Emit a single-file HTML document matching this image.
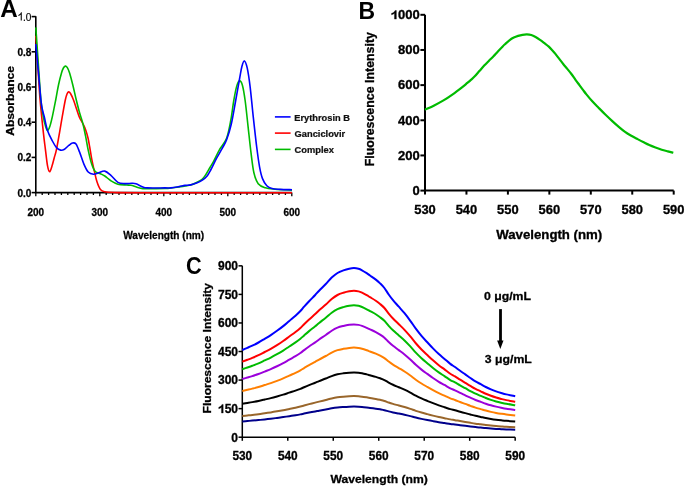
<!DOCTYPE html>
<html><head><meta charset="utf-8"><style>
html,body{margin:0;padding:0;background:#fff;}
svg{display:block;will-change:transform;}
</style></head><body>
<svg width="685" height="487" viewBox="0 0 685 487">
<rect width="685" height="487" fill="#fff"/>
<path d="M35.8,16.2V192.6H292" fill="none" stroke="#000" stroke-width="1.6"/>
<path d="M31.599999999999998,192.60H35.8" stroke="#000" stroke-width="1.6"/>
<path d="M31.599999999999998,157.40H35.8" stroke="#000" stroke-width="1.6"/>
<path d="M31.599999999999998,122.20H35.8" stroke="#000" stroke-width="1.6"/>
<path d="M31.599999999999998,87.00H35.8" stroke="#000" stroke-width="1.6"/>
<path d="M31.599999999999998,51.80H35.8" stroke="#000" stroke-width="1.6"/>
<path d="M31.599999999999998,16.60H35.8" stroke="#000" stroke-width="1.6"/>
<path d="M35.80,192.6V196.20" stroke="#000" stroke-width="1.3"/>
<path d="M42.20,192.6V195.00" stroke="#000" stroke-width="1.3"/>
<path d="M48.60,192.6V195.00" stroke="#000" stroke-width="1.3"/>
<path d="M55.00,192.6V195.00" stroke="#000" stroke-width="1.3"/>
<path d="M61.40,192.6V195.00" stroke="#000" stroke-width="1.3"/>
<path d="M67.80,192.6V195.00" stroke="#000" stroke-width="1.3"/>
<path d="M74.20,192.6V195.00" stroke="#000" stroke-width="1.3"/>
<path d="M80.60,192.6V195.00" stroke="#000" stroke-width="1.3"/>
<path d="M87.00,192.6V195.00" stroke="#000" stroke-width="1.3"/>
<path d="M93.40,192.6V195.00" stroke="#000" stroke-width="1.3"/>
<path d="M99.80,192.6V196.20" stroke="#000" stroke-width="1.3"/>
<path d="M106.20,192.6V195.00" stroke="#000" stroke-width="1.3"/>
<path d="M112.60,192.6V195.00" stroke="#000" stroke-width="1.3"/>
<path d="M119.00,192.6V195.00" stroke="#000" stroke-width="1.3"/>
<path d="M125.40,192.6V195.00" stroke="#000" stroke-width="1.3"/>
<path d="M131.80,192.6V195.00" stroke="#000" stroke-width="1.3"/>
<path d="M138.20,192.6V195.00" stroke="#000" stroke-width="1.3"/>
<path d="M144.60,192.6V195.00" stroke="#000" stroke-width="1.3"/>
<path d="M151.00,192.6V195.00" stroke="#000" stroke-width="1.3"/>
<path d="M157.40,192.6V195.00" stroke="#000" stroke-width="1.3"/>
<path d="M163.80,192.6V196.20" stroke="#000" stroke-width="1.3"/>
<path d="M170.20,192.6V195.00" stroke="#000" stroke-width="1.3"/>
<path d="M176.60,192.6V195.00" stroke="#000" stroke-width="1.3"/>
<path d="M183.00,192.6V195.00" stroke="#000" stroke-width="1.3"/>
<path d="M189.40,192.6V195.00" stroke="#000" stroke-width="1.3"/>
<path d="M195.80,192.6V195.00" stroke="#000" stroke-width="1.3"/>
<path d="M202.20,192.6V195.00" stroke="#000" stroke-width="1.3"/>
<path d="M208.60,192.6V195.00" stroke="#000" stroke-width="1.3"/>
<path d="M215.00,192.6V195.00" stroke="#000" stroke-width="1.3"/>
<path d="M221.40,192.6V195.00" stroke="#000" stroke-width="1.3"/>
<path d="M227.80,192.6V196.20" stroke="#000" stroke-width="1.3"/>
<path d="M234.20,192.6V195.00" stroke="#000" stroke-width="1.3"/>
<path d="M240.60,192.6V195.00" stroke="#000" stroke-width="1.3"/>
<path d="M247.00,192.6V195.00" stroke="#000" stroke-width="1.3"/>
<path d="M253.40,192.6V195.00" stroke="#000" stroke-width="1.3"/>
<path d="M259.80,192.6V195.00" stroke="#000" stroke-width="1.3"/>
<path d="M266.20,192.6V195.00" stroke="#000" stroke-width="1.3"/>
<path d="M272.60,192.6V195.00" stroke="#000" stroke-width="1.3"/>
<path d="M279.00,192.6V195.00" stroke="#000" stroke-width="1.3"/>
<path d="M285.40,192.6V195.00" stroke="#000" stroke-width="1.3"/>
<path d="M291.80,192.6V196.20" stroke="#000" stroke-width="1.3"/>
<path d="M35.80,35.70 C36.10,40.08 36.88,51.28 37.60,62.00 C38.32,72.72 39.13,88.20 40.10,100.00 C41.07,111.80 42.52,124.58 43.40,132.80 C44.28,141.02 44.72,143.82 45.40,149.30 C46.08,154.78 46.80,161.95 47.50,165.70 C48.20,169.45 48.85,171.75 49.60,171.80 C50.35,171.85 51.23,168.30 52.00,166.00 C52.77,163.70 53.45,160.78 54.20,158.00 C54.95,155.22 55.62,153.50 56.50,149.30 C57.38,145.10 58.53,138.28 59.50,132.80 C60.47,127.32 61.33,121.87 62.30,116.40 C63.27,110.93 64.52,103.73 65.30,100.00 C66.08,96.27 66.45,95.35 67.00,94.00 C67.55,92.65 68.02,91.98 68.60,91.90 C69.18,91.82 69.68,92.15 70.50,93.50 C71.32,94.85 72.43,97.25 73.50,100.00 C74.57,102.75 75.90,107.08 76.90,110.00 C77.90,112.92 78.57,115.33 79.50,117.50 C80.43,119.67 81.50,121.00 82.50,123.00 C83.50,125.00 84.58,127.00 85.50,129.50 C86.42,132.00 87.30,135.08 88.00,138.00 C88.70,140.92 89.08,143.52 89.70,147.00 C90.32,150.48 90.93,154.88 91.70,158.90 C92.47,162.92 93.43,167.32 94.30,171.10 C95.17,174.88 95.88,178.53 96.90,181.60 C97.92,184.67 99.08,187.80 100.40,189.50 C101.72,191.20 102.37,191.30 104.80,191.80 C107.23,192.30 109.13,192.35 115.00,192.50 C120.87,192.65 110.50,192.67 140.00,192.70 C169.50,192.73 266.67,192.70 292.00,192.70" fill="none" stroke="#FF0000" stroke-width="1.6" stroke-linejoin="round" stroke-linecap="butt"/>
<path d="M35.80,27.40 C36.20,33.17 37.35,49.90 38.20,62.00 C39.05,74.10 40.07,91.00 40.90,100.00 C41.73,109.00 42.43,111.67 43.20,116.00 C43.97,120.33 44.78,123.60 45.50,126.00 C46.22,128.40 46.78,130.32 47.50,130.40 C48.22,130.48 48.98,128.83 49.80,126.50 C50.62,124.17 51.42,120.82 52.40,116.40 C53.38,111.98 54.68,105.23 55.70,100.00 C56.72,94.77 57.53,89.50 58.50,85.00 C59.47,80.50 60.68,75.83 61.50,73.00 C62.32,70.17 62.77,69.15 63.40,68.00 C64.03,66.85 64.67,66.20 65.30,66.10 C65.93,66.00 66.48,66.25 67.20,67.40 C67.92,68.55 68.67,70.07 69.60,73.00 C70.53,75.93 71.68,80.50 72.80,85.00 C73.92,89.50 75.18,95.42 76.30,100.00 C77.42,104.58 78.38,108.50 79.50,112.50 C80.62,116.50 81.98,120.05 83.00,124.00 C84.02,127.95 84.73,131.85 85.60,136.20 C86.47,140.55 87.18,145.45 88.20,150.10 C89.22,154.75 90.53,160.53 91.70,164.10 C92.87,167.67 93.75,169.90 95.20,171.50 C96.65,173.10 98.80,172.95 100.40,173.70 C102.00,174.45 103.05,174.83 104.80,176.00 C106.55,177.17 108.72,179.33 110.90,180.70 C113.08,182.07 115.28,183.48 117.90,184.20 C120.52,184.92 124.42,184.82 126.60,185.00 C128.78,185.18 129.27,184.93 131.00,185.30 C132.73,185.67 135.02,186.65 137.00,187.20 C138.98,187.75 141.15,188.35 142.90,188.60 C144.65,188.85 143.82,188.73 147.50,188.70 C151.18,188.67 161.10,188.52 165.00,188.40 C168.90,188.28 168.55,188.23 170.90,188.00 C173.25,187.77 176.77,187.33 179.10,187.00 C181.43,186.67 182.97,186.32 184.90,186.00 C186.83,185.68 188.75,185.68 190.70,185.10 C192.65,184.52 194.65,183.52 196.60,182.50 C198.55,181.48 200.75,180.50 202.40,179.00 C204.05,177.50 205.23,175.42 206.50,173.50 C207.77,171.58 208.82,169.53 210.00,167.50 C211.18,165.47 212.03,164.25 213.60,161.30 C215.17,158.35 217.23,153.63 219.40,149.80 C221.57,145.97 224.68,143.32 226.60,138.30 C228.52,133.28 229.72,125.92 230.90,119.70 C232.08,113.48 232.75,106.52 233.70,101.00 C234.65,95.48 235.63,89.95 236.60,86.60 C237.57,83.25 238.53,81.13 239.50,80.90 C240.47,80.67 241.45,81.85 242.40,85.20 C243.35,88.55 244.25,94.07 245.20,101.00 C246.15,107.93 247.13,118.18 248.10,126.80 C249.07,135.42 250.03,145.03 251.00,152.70 C251.97,160.37 252.70,167.63 253.90,172.80 C255.10,177.97 256.30,181.20 258.20,183.70 C260.10,186.20 262.48,186.88 265.30,187.80 C268.12,188.72 270.65,188.80 275.10,189.20 C279.55,189.60 289.18,190.03 292.00,190.20" fill="none" stroke="#00BB00" stroke-width="1.6" stroke-linejoin="round" stroke-linecap="butt"/>
<path d="M35.80,44.00 C36.23,48.67 37.55,62.67 38.40,72.00 C39.25,81.33 40.22,93.67 40.90,100.00 C41.58,106.33 41.95,107.27 42.50,110.00 C43.05,112.73 43.37,113.00 44.20,116.40 C45.03,119.80 46.13,126.30 47.50,130.40 C48.87,134.50 50.90,138.13 52.40,141.00 C53.90,143.87 55.13,146.08 56.50,147.60 C57.87,149.12 59.27,149.83 60.60,150.10 C61.93,150.37 63.13,149.98 64.50,149.20 C65.87,148.42 67.47,146.43 68.80,145.40 C70.13,144.37 71.30,143.23 72.50,143.00 C73.70,142.77 74.83,142.52 76.00,144.00 C77.17,145.48 78.18,148.55 79.50,151.90 C80.82,155.25 82.45,160.75 83.90,164.10 C85.35,167.45 86.60,170.32 88.20,172.00 C89.80,173.68 91.75,174.07 93.50,174.20 C95.25,174.33 96.82,173.32 98.70,172.80 C100.58,172.28 102.77,170.67 104.80,171.10 C106.83,171.53 108.72,173.52 110.90,175.40 C113.08,177.28 115.57,181.03 117.90,182.40 C120.23,183.77 122.58,183.45 124.90,183.60 C127.22,183.75 129.95,183.27 131.80,183.30 C133.65,183.33 134.15,183.18 136.00,183.80 C137.85,184.42 140.98,186.32 142.90,187.00 C144.82,187.68 143.82,187.75 147.50,187.90 C151.18,188.05 161.10,187.90 165.00,187.90 C168.90,187.90 168.55,188.12 170.90,187.90 C173.25,187.68 176.77,187.02 179.10,186.60 C181.43,186.18 182.97,185.68 184.90,185.40 C186.83,185.12 188.75,185.28 190.70,184.90 C192.65,184.52 194.65,183.88 196.60,183.10 C198.55,182.32 200.65,181.37 202.40,180.20 C204.15,179.03 205.72,177.80 207.10,176.10 C208.48,174.40 209.13,172.95 210.70,170.00 C212.27,167.05 214.58,162.00 216.50,158.40 C218.42,154.80 220.52,151.50 222.20,148.40 C223.88,145.30 225.08,143.87 226.60,139.80 C228.12,135.73 229.80,130.47 231.30,124.00 C232.80,117.53 234.20,108.67 235.60,101.00 C237.00,93.33 238.65,83.75 239.70,78.00 C240.75,72.25 241.12,69.35 241.90,66.50 C242.68,63.65 243.52,60.67 244.40,60.90 C245.28,61.13 246.25,63.62 247.20,67.90 C248.15,72.18 249.07,78.22 250.10,86.60 C251.13,94.98 252.30,108.13 253.40,118.20 C254.50,128.27 255.67,138.85 256.70,147.00 C257.73,155.15 258.63,161.83 259.60,167.10 C260.57,172.37 261.30,175.50 262.50,178.60 C263.70,181.70 265.22,184.03 266.80,185.70 C268.38,187.37 269.80,187.98 272.00,188.60 C274.20,189.22 276.67,189.22 280.00,189.40 C283.33,189.58 290.00,189.65 292.00,189.70" fill="none" stroke="#0000FF" stroke-width="1.6" stroke-linejoin="round" stroke-linecap="butt"/>
<path d="M274.9,116.9H290.6" stroke="#0000FF" stroke-width="1.6"/>
<path d="M274.9,133.1H290.6" stroke="#FF0000" stroke-width="1.6"/>
<path d="M274.9,149.4H290.6" stroke="#00BB00" stroke-width="1.6"/>
<text transform="translate(294.34,120.62) scale(0.0927,0.0990)" font-size="100" font-family="Liberation Sans" font-weight="bold" fill="#111" stroke="#111" stroke-width="2.5">Erythrosin B</text>
<text transform="translate(294.62,136.61) scale(0.0930,0.0974)" font-size="100" font-family="Liberation Sans" font-weight="bold" fill="#111" stroke="#111" stroke-width="2.5">Ganciclovir</text>
<text transform="translate(294.62,153.02) scale(0.0931,0.0990)" font-size="100" font-family="Liberation Sans" font-weight="bold" fill="#111" stroke="#111" stroke-width="2.5">Complex</text>
<text transform="translate(0.17,17.03) scale(0.2424,0.2338)" font-size="100" font-family="Liberation Sans" font-weight="bold" fill="#000" stroke="#000" stroke-width="0">A</text>
<text transform="translate(31.40,196.58) scale(0.1008,0.1155)" font-size="100" font-family="Liberation Sans" font-weight="bold" text-anchor="end" fill="#000" stroke="#000" stroke-width="2.5">0.0</text>
<text transform="translate(31.40,161.38) scale(0.1008,0.1155)" font-size="100" font-family="Liberation Sans" font-weight="bold" text-anchor="end" fill="#000" stroke="#000" stroke-width="2.5">0.2</text>
<text transform="translate(31.40,126.18) scale(0.1008,0.1155)" font-size="100" font-family="Liberation Sans" font-weight="bold" text-anchor="end" fill="#000" stroke="#000" stroke-width="2.5">0.4</text>
<text transform="translate(31.40,90.98) scale(0.1008,0.1155)" font-size="100" font-family="Liberation Sans" font-weight="bold" text-anchor="end" fill="#000" stroke="#000" stroke-width="2.5">0.6</text>
<text transform="translate(31.40,55.78) scale(0.1008,0.1155)" font-size="100" font-family="Liberation Sans" font-weight="bold" text-anchor="end" fill="#000" stroke="#000" stroke-width="2.5">0.8</text>
<path transform="translate(17.40,20.58) scale(0.1008,0.1155)" d="M33,0H43.5V-71.2H36C34,-65.5 30,-60.5 24.5,-56.5C19.5,-53 14.5,-50.5 9.5,-49V-39.5C18,-42.5 27,-47.5 33,-53.5Z" fill="#000"/>
<text transform="translate(23.00,20.58) scale(0.1008,0.1155)" font-size="100" font-family="Liberation Sans" fill="#000" stroke="#000" stroke-width="1.5">.0</text>
<text transform="translate(35.80,215.50) scale(0.1000,0.1183)" font-size="100" font-family="Liberation Sans" font-weight="bold" text-anchor="middle" fill="#000" stroke="#000" stroke-width="2.5">200</text>
<text transform="translate(99.80,215.50) scale(0.1000,0.1183)" font-size="100" font-family="Liberation Sans" font-weight="bold" text-anchor="middle" fill="#000" stroke="#000" stroke-width="2.5">300</text>
<text transform="translate(163.80,215.50) scale(0.1000,0.1183)" font-size="100" font-family="Liberation Sans" font-weight="bold" text-anchor="middle" fill="#000" stroke="#000" stroke-width="2.5">400</text>
<text transform="translate(227.80,215.50) scale(0.1000,0.1183)" font-size="100" font-family="Liberation Sans" font-weight="bold" text-anchor="middle" fill="#000" stroke="#000" stroke-width="2.5">500</text>
<text transform="translate(291.80,215.50) scale(0.1000,0.1183)" font-size="100" font-family="Liberation Sans" font-weight="bold" text-anchor="middle" fill="#000" stroke="#000" stroke-width="2.5">600</text>
<text transform="translate(123.20,239.18) scale(0.1011,0.1146)" font-size="100" font-family="Liberation Sans" font-weight="bold" fill="#000" stroke="#000" stroke-width="2.5">Wavelength (nm)</text>
<text transform="translate(14.10,135.84) rotate(-90) scale(0.1209,0.1013)" font-size="100" font-family="Liberation Sans" font-weight="bold" fill="#000" stroke="#000" stroke-width="2.5">Absorbance</text>
<path d="M425.0,14.8V190.6H673.70" fill="none" stroke="#000" stroke-width="2.0"/>
<path d="M420.4,190.60H425.0" stroke="#000" stroke-width="2.0"/>
<path d="M420.4,155.44H425.0" stroke="#000" stroke-width="2.0"/>
<path d="M420.4,120.28H425.0" stroke="#000" stroke-width="2.0"/>
<path d="M420.4,85.12H425.0" stroke="#000" stroke-width="2.0"/>
<path d="M420.4,49.96H425.0" stroke="#000" stroke-width="2.0"/>
<path d="M420.4,14.80H425.0" stroke="#000" stroke-width="2.0"/>
<path d="M425.00,190.6V194.60" stroke="#000" stroke-width="2.0"/>
<path d="M466.45,190.6V194.60" stroke="#000" stroke-width="2.0"/>
<path d="M507.90,190.6V194.60" stroke="#000" stroke-width="2.0"/>
<path d="M549.35,190.6V194.60" stroke="#000" stroke-width="2.0"/>
<path d="M590.80,190.6V194.60" stroke="#000" stroke-width="2.0"/>
<path d="M632.25,190.6V194.60" stroke="#000" stroke-width="2.0"/>
<path d="M673.70,190.6V194.60" stroke="#000" stroke-width="2.0"/>
<path d="M425.00,109.70 C426.53,108.98 431.12,106.95 434.20,105.40 C437.28,103.85 440.42,102.25 443.50,100.40 C446.58,98.55 449.62,96.48 452.70,94.30 C455.78,92.12 459.62,89.15 462.00,87.30 C464.38,85.45 465.47,84.48 467.00,83.20 C468.53,81.92 469.87,80.78 471.20,79.60 C472.53,78.42 473.60,77.57 475.00,76.10 C476.40,74.63 478.07,72.55 479.60,70.80 C481.13,69.05 482.67,67.25 484.20,65.60 C485.73,63.95 487.25,62.47 488.80,60.90 C490.35,59.33 491.95,57.82 493.50,56.20 C495.05,54.58 496.57,52.83 498.10,51.20 C499.63,49.57 501.55,47.57 502.70,46.40 C503.85,45.23 503.88,45.22 505.00,44.20 C506.12,43.18 507.93,41.40 509.40,40.30 C510.87,39.20 512.35,38.33 513.80,37.60 C515.25,36.87 516.65,36.37 518.10,35.90 C519.55,35.43 521.03,35.05 522.50,34.80 C523.97,34.55 525.43,34.37 526.90,34.40 C528.37,34.43 529.85,34.57 531.30,35.00 C532.75,35.43 534.15,36.20 535.60,37.00 C537.05,37.80 538.53,38.78 540.00,39.80 C541.47,40.82 542.93,41.97 544.40,43.10 C545.87,44.23 547.50,45.42 548.80,46.60 C550.10,47.78 551.10,48.98 552.20,50.20 C553.30,51.42 554.25,52.48 555.40,53.90 C556.55,55.32 557.80,57.02 559.10,58.70 C560.40,60.38 561.83,62.30 563.20,64.00 C564.57,65.70 565.93,67.23 567.30,68.90 C568.67,70.57 570.03,72.18 571.40,74.00 C572.77,75.82 574.13,77.92 575.50,79.80 C576.87,81.68 578.35,83.62 579.60,85.30 C580.85,86.98 581.90,88.43 583.00,89.90 C584.10,91.37 584.65,92.20 586.20,94.10 C587.75,96.00 590.25,99.03 592.30,101.30 C594.35,103.57 596.33,105.50 598.50,107.70 C600.67,109.90 603.00,112.27 605.30,114.50 C607.60,116.73 610.10,119.08 612.30,121.10 C614.50,123.12 616.43,124.85 618.50,126.60 C620.57,128.35 622.65,130.12 624.70,131.60 C626.75,133.08 628.75,134.30 630.80,135.50 C632.85,136.70 634.93,137.72 637.00,138.80 C639.07,139.88 641.15,140.97 643.20,142.00 C645.25,143.03 647.25,144.08 649.30,145.00 C651.35,145.92 653.43,146.72 655.50,147.50 C657.57,148.28 659.65,149.05 661.70,149.70 C663.75,150.35 665.87,150.88 667.80,151.40 C669.73,151.92 672.38,152.57 673.30,152.80" fill="none" stroke="#00BB00" stroke-width="2.2" stroke-linejoin="round" stroke-linecap="butt"/>
<text transform="translate(419.70,194.90) scale(0.1304,0.1211)" font-size="100" font-family="Liberation Sans" font-weight="bold" text-anchor="end" fill="#000" stroke="#000" stroke-width="2.5">0</text>
<text transform="translate(419.70,159.74) scale(0.1304,0.1211)" font-size="100" font-family="Liberation Sans" font-weight="bold" text-anchor="end" fill="#000" stroke="#000" stroke-width="2.5">200</text>
<text transform="translate(419.70,124.58) scale(0.1304,0.1211)" font-size="100" font-family="Liberation Sans" font-weight="bold" text-anchor="end" fill="#000" stroke="#000" stroke-width="2.5">400</text>
<text transform="translate(419.70,89.42) scale(0.1304,0.1211)" font-size="100" font-family="Liberation Sans" font-weight="bold" text-anchor="end" fill="#000" stroke="#000" stroke-width="2.5">600</text>
<text transform="translate(419.70,54.26) scale(0.1304,0.1211)" font-size="100" font-family="Liberation Sans" font-weight="bold" text-anchor="end" fill="#000" stroke="#000" stroke-width="2.5">800</text>
<path transform="translate(390.69,19.10) scale(0.1304,0.1211)" d="M29,0H43.6V-71.2H33.6C31.6,-65.2 27.2,-59.8 21.2,-55.4C16.2,-51.8 11.2,-49.4 6.4,-47.9V-35.2C15.4,-38.3 23.2,-42.8 29,-48.2Z" fill="#000" stroke="#000" stroke-width="2.5"/><text transform="translate(397.94,19.10) scale(0.1304,0.1211)" font-size="100" font-family="Liberation Sans" font-weight="bold" fill="#000" stroke="#000" stroke-width="2.5">000</text>
<text transform="translate(425.00,214.40) scale(0.1294,0.1225)" font-size="100" font-family="Liberation Sans" font-weight="bold" text-anchor="middle" fill="#000" stroke="#000" stroke-width="2.5">530</text>
<text transform="translate(466.45,214.40) scale(0.1294,0.1225)" font-size="100" font-family="Liberation Sans" font-weight="bold" text-anchor="middle" fill="#000" stroke="#000" stroke-width="2.5">540</text>
<text transform="translate(507.90,214.40) scale(0.1294,0.1225)" font-size="100" font-family="Liberation Sans" font-weight="bold" text-anchor="middle" fill="#000" stroke="#000" stroke-width="2.5">550</text>
<text transform="translate(549.35,214.40) scale(0.1294,0.1225)" font-size="100" font-family="Liberation Sans" font-weight="bold" text-anchor="middle" fill="#000" stroke="#000" stroke-width="2.5">560</text>
<text transform="translate(590.80,214.40) scale(0.1294,0.1225)" font-size="100" font-family="Liberation Sans" font-weight="bold" text-anchor="middle" fill="#000" stroke="#000" stroke-width="2.5">570</text>
<text transform="translate(632.25,214.40) scale(0.1294,0.1225)" font-size="100" font-family="Liberation Sans" font-weight="bold" text-anchor="middle" fill="#000" stroke="#000" stroke-width="2.5">580</text>
<text transform="translate(673.70,214.40) scale(0.1294,0.1225)" font-size="100" font-family="Liberation Sans" font-weight="bold" text-anchor="middle" fill="#000" stroke="#000" stroke-width="2.5">590</text>
<text transform="translate(358.39,19.00) scale(0.2295,0.2333)" font-size="100" font-family="Liberation Sans" font-weight="bold" fill="#000" stroke="#000" stroke-width="0">B</text>
<text transform="translate(496.23,239.27) scale(0.1323,0.1240)" font-size="100" font-family="Liberation Sans" font-weight="bold" fill="#000" stroke="#000" stroke-width="2.5">Wavelength (nm)</text>
<text transform="translate(374.30,166.24) rotate(-90) scale(0.1240,0.1229)" font-size="100" font-family="Liberation Sans" font-weight="bold" fill="#000" stroke="#000" stroke-width="2.5">Fluorescence Intensity</text>
<path d="M242.3,265.84V437.2H515.18" fill="none" stroke="#000" stroke-width="1.5"/>
<path d="M238.5,437.20H242.3" stroke="#000" stroke-width="1.5"/>
<path d="M238.5,408.64H242.3" stroke="#000" stroke-width="1.5"/>
<path d="M238.5,380.08H242.3" stroke="#000" stroke-width="1.5"/>
<path d="M238.5,351.52H242.3" stroke="#000" stroke-width="1.5"/>
<path d="M238.5,322.96H242.3" stroke="#000" stroke-width="1.5"/>
<path d="M238.5,294.40H242.3" stroke="#000" stroke-width="1.5"/>
<path d="M238.5,265.84H242.3" stroke="#000" stroke-width="1.5"/>
<path d="M242.30,437.2V440.80" stroke="#000" stroke-width="1.5"/>
<path d="M287.78,437.2V440.80" stroke="#000" stroke-width="1.5"/>
<path d="M333.26,437.2V440.80" stroke="#000" stroke-width="1.5"/>
<path d="M378.74,437.2V440.80" stroke="#000" stroke-width="1.5"/>
<path d="M424.22,437.2V440.80" stroke="#000" stroke-width="1.5"/>
<path d="M469.70,437.2V440.80" stroke="#000" stroke-width="1.5"/>
<path d="M515.18,437.2V440.80" stroke="#000" stroke-width="1.5"/>
<path d="M242.30,421.42 C243.15,421.35 245.73,421.15 247.40,421.02 C249.07,420.89 250.45,420.78 252.30,420.62 C254.15,420.46 256.43,420.26 258.50,420.06 C260.57,419.85 262.65,419.61 264.70,419.39 C266.75,419.17 268.75,418.96 270.80,418.72 C272.85,418.48 274.93,418.21 277.00,417.94 C279.07,417.67 281.15,417.39 283.20,417.09 C285.25,416.79 287.25,416.46 289.30,416.15 C291.35,415.84 293.65,415.51 295.50,415.21 C297.35,414.91 298.97,414.63 300.40,414.36 C301.83,414.09 302.65,413.88 304.10,413.58 C305.55,413.28 307.25,412.94 309.10,412.58 C310.95,412.23 313.53,411.78 315.20,411.46 C316.87,411.15 317.33,411.02 319.10,410.68 C320.87,410.35 323.70,409.87 325.80,409.47 C327.90,409.08 329.75,408.64 331.70,408.31 C333.65,407.98 335.55,407.70 337.50,407.48 C339.45,407.26 341.45,407.14 343.40,407.01 C345.35,406.88 347.43,406.77 349.20,406.70 C350.97,406.63 352.45,406.59 354.00,406.59 C355.55,406.60 357.17,406.65 358.50,406.72 C359.83,406.79 360.63,406.86 362.00,406.99 C363.37,407.12 365.37,407.36 366.70,407.52 C368.03,407.67 368.48,407.74 370.00,407.93 C371.52,408.13 374.12,408.44 375.80,408.67 C377.48,408.91 378.67,409.11 380.10,409.36 C381.53,409.62 382.97,409.86 384.40,410.19 C385.83,410.53 387.27,411.00 388.70,411.37 C390.13,411.74 391.32,412.03 393.00,412.40 C394.68,412.77 396.88,413.19 398.80,413.58 C400.72,413.97 402.58,414.33 404.50,414.76 C406.42,415.18 408.42,415.66 410.30,416.13 C412.18,416.60 413.93,417.11 415.80,417.56 C417.67,418.02 419.58,418.45 421.50,418.86 C423.42,419.27 425.38,419.65 427.30,420.02 C429.22,420.40 431.08,420.77 433.00,421.13 C434.92,421.48 436.88,421.84 438.80,422.16 C440.72,422.48 442.58,422.73 444.50,423.03 C446.42,423.32 448.55,423.69 450.30,423.93 C452.05,424.18 453.37,424.29 455.00,424.49 C456.63,424.70 458.38,424.96 460.10,425.18 C461.82,425.40 463.58,425.62 465.30,425.83 C467.02,426.05 468.70,426.27 470.40,426.48 C472.10,426.70 473.78,426.91 475.50,427.10 C477.22,427.29 478.98,427.44 480.70,427.61 C482.42,427.78 484.10,427.96 485.80,428.11 C487.50,428.27 489.18,428.42 490.90,428.55 C492.62,428.68 494.38,428.80 496.10,428.91 C497.82,429.02 499.50,429.11 501.20,429.20 C502.90,429.29 503.97,429.35 506.30,429.45 C508.63,429.55 513.72,429.74 515.20,429.80" fill="none" stroke="#00008B" stroke-width="2.0" stroke-linejoin="round" stroke-linecap="butt"/>
<path d="M242.30,416.01 C243.15,415.92 245.73,415.65 247.40,415.48 C249.07,415.30 250.45,415.16 252.30,414.94 C254.15,414.73 256.43,414.46 258.50,414.19 C260.57,413.91 262.65,413.59 264.70,413.29 C266.75,412.99 268.75,412.71 270.80,412.39 C272.85,412.07 274.93,411.71 277.00,411.34 C279.07,410.98 281.15,410.60 283.20,410.20 C285.25,409.80 287.25,409.36 289.30,408.94 C291.35,408.52 293.65,408.08 295.50,407.68 C297.35,407.27 298.97,406.90 300.40,406.53 C301.83,406.17 302.65,405.89 304.10,405.49 C305.55,405.09 307.25,404.63 309.10,404.15 C310.95,403.68 313.53,403.07 315.20,402.65 C316.87,402.22 317.33,402.05 319.10,401.60 C320.87,401.16 323.70,400.50 325.80,399.97 C327.90,399.44 329.75,398.86 331.70,398.42 C333.65,397.97 335.55,397.59 337.50,397.30 C339.45,397.01 341.45,396.84 343.40,396.67 C345.35,396.49 347.43,396.35 349.20,396.25 C350.97,396.16 352.45,396.10 354.00,396.11 C355.55,396.11 357.17,396.19 358.50,396.28 C359.83,396.37 360.63,396.47 362.00,396.64 C363.37,396.82 365.37,397.14 366.70,397.35 C368.03,397.56 368.48,397.65 370.00,397.91 C371.52,398.17 374.12,398.58 375.80,398.90 C377.48,399.22 378.67,399.49 380.10,399.83 C381.53,400.17 382.97,400.49 384.40,400.94 C385.83,401.39 387.27,402.03 388.70,402.52 C390.13,403.02 391.32,403.41 393.00,403.91 C394.68,404.40 396.88,404.96 398.80,405.49 C400.72,406.01 402.58,406.50 404.50,407.07 C406.42,407.64 408.42,408.29 410.30,408.91 C412.18,409.54 413.93,410.22 415.80,410.83 C417.67,411.45 419.58,412.03 421.50,412.58 C423.42,413.13 425.38,413.63 427.30,414.14 C429.22,414.65 431.08,415.14 433.00,415.62 C434.92,416.10 436.88,416.58 438.80,417.01 C440.72,417.43 442.58,417.78 444.50,418.17 C446.42,418.57 448.55,419.06 450.30,419.39 C452.05,419.72 453.37,419.86 455.00,420.14 C456.63,420.42 458.38,420.77 460.10,421.06 C461.82,421.36 463.58,421.65 465.30,421.94 C467.02,422.23 468.70,422.53 470.40,422.81 C472.10,423.10 473.78,423.39 475.50,423.64 C477.22,423.89 478.98,424.09 480.70,424.32 C482.42,424.55 484.10,424.79 485.80,425.00 C487.50,425.21 489.18,425.41 490.90,425.58 C492.62,425.76 494.38,425.92 496.10,426.07 C497.82,426.22 499.50,426.34 501.20,426.46 C502.90,426.58 503.97,426.67 506.30,426.80 C508.63,426.93 513.72,427.18 515.20,427.26" fill="none" stroke="#99662B" stroke-width="2.0" stroke-linejoin="round" stroke-linecap="butt"/>
<path d="M242.30,403.80 C243.15,403.66 245.73,403.24 247.40,402.96 C249.07,402.68 250.45,402.46 252.30,402.12 C254.15,401.78 256.43,401.36 258.50,400.93 C260.57,400.50 262.65,399.99 264.70,399.51 C266.75,399.04 268.75,398.61 270.80,398.10 C272.85,397.59 274.93,397.02 277.00,396.45 C279.07,395.87 281.15,395.28 283.20,394.65 C285.25,394.02 287.25,393.32 289.30,392.66 C291.35,391.99 293.65,391.30 295.50,390.67 C297.35,390.03 298.97,389.44 300.40,388.87 C301.83,388.29 302.65,387.84 304.10,387.22 C305.55,386.59 307.25,385.86 309.10,385.11 C310.95,384.37 313.53,383.41 315.20,382.74 C316.87,382.07 317.33,381.79 319.10,381.09 C320.87,380.39 323.70,379.36 325.80,378.52 C327.90,377.69 329.75,376.78 331.70,376.07 C333.65,375.37 335.55,374.77 337.50,374.31 C339.45,373.85 341.45,373.59 343.40,373.32 C345.35,373.04 347.43,372.81 349.20,372.66 C350.97,372.52 352.45,372.43 354.00,372.43 C355.55,372.44 357.17,372.56 358.50,372.70 C359.83,372.84 360.63,373.00 362.00,373.28 C363.37,373.56 365.37,374.06 366.70,374.39 C368.03,374.72 368.48,374.86 370.00,375.27 C371.52,375.68 374.12,376.33 375.80,376.84 C377.48,377.34 378.67,377.76 380.10,378.29 C381.53,378.83 382.97,379.35 384.40,380.06 C385.83,380.76 387.27,381.77 388.70,382.55 C390.13,383.32 391.32,383.95 393.00,384.73 C394.68,385.51 396.88,386.39 398.80,387.22 C400.72,388.05 402.58,388.81 404.50,389.71 C406.42,390.61 408.42,391.63 410.30,392.62 C412.18,393.61 413.93,394.68 415.80,395.64 C417.67,396.61 419.58,397.53 421.50,398.40 C423.42,399.27 425.38,400.06 427.30,400.85 C429.22,401.65 431.08,402.44 433.00,403.19 C434.92,403.94 436.88,404.70 438.80,405.37 C440.72,406.04 442.58,406.59 444.50,407.21 C446.42,407.84 448.55,408.61 450.30,409.13 C452.05,409.64 453.37,409.87 455.00,410.31 C456.63,410.75 458.38,411.30 460.10,411.77 C461.82,412.24 463.58,412.69 465.30,413.15 C467.02,413.61 468.70,414.08 470.40,414.53 C472.10,414.97 473.78,415.43 475.50,415.83 C477.22,416.22 478.98,416.54 480.70,416.90 C482.42,417.26 484.10,417.64 485.80,417.97 C487.50,418.31 489.18,418.61 490.90,418.89 C492.62,419.17 494.38,419.43 496.10,419.66 C497.82,419.89 499.50,420.08 501.20,420.27 C502.90,420.46 503.97,420.60 506.30,420.81 C508.63,421.02 513.72,421.41 515.20,421.54" fill="none" stroke="#000000" stroke-width="2.0" stroke-linejoin="round" stroke-linecap="butt"/>
<path d="M242.30,390.98 C243.15,390.79 245.73,390.21 247.40,389.82 C249.07,389.43 250.45,389.12 252.30,388.65 C254.15,388.18 256.43,387.61 258.50,387.01 C260.57,386.41 262.65,385.70 264.70,385.05 C266.75,384.39 268.75,383.79 270.80,383.09 C272.85,382.38 274.93,381.60 277.00,380.81 C279.07,380.01 281.15,379.19 283.20,378.32 C285.25,377.44 287.25,376.48 289.30,375.56 C291.35,374.64 293.65,373.68 295.50,372.81 C297.35,371.93 298.97,371.11 300.40,370.31 C301.83,369.52 302.65,368.90 304.10,368.03 C305.55,367.17 307.25,366.15 309.10,365.12 C310.95,364.09 313.53,362.76 315.20,361.83 C316.87,360.91 317.33,360.53 319.10,359.55 C320.87,358.58 323.70,357.16 325.80,356.00 C327.90,354.85 329.75,353.58 331.70,352.61 C333.65,351.64 335.55,350.81 337.50,350.17 C339.45,349.54 341.45,349.18 343.40,348.80 C345.35,348.42 347.43,348.10 349.20,347.89 C350.97,347.69 352.45,347.57 354.00,347.58 C355.55,347.59 357.17,347.75 358.50,347.95 C359.83,348.14 360.63,348.35 362.00,348.74 C363.37,349.13 365.37,349.82 366.70,350.28 C368.03,350.74 368.48,350.93 370.00,351.50 C371.52,352.06 374.12,352.97 375.80,353.67 C377.48,354.37 378.67,354.94 380.10,355.69 C381.53,356.43 382.97,357.14 384.40,358.12 C385.83,359.10 387.27,360.49 388.70,361.57 C390.13,362.65 391.32,363.51 393.00,364.59 C394.68,365.67 396.88,366.89 398.80,368.03 C400.72,369.18 402.58,370.23 404.50,371.48 C406.42,372.73 408.42,374.14 410.30,375.51 C412.18,376.88 413.93,378.36 415.80,379.69 C417.67,381.03 419.58,382.31 421.50,383.51 C423.42,384.71 425.38,385.80 427.30,386.90 C429.22,388.01 431.08,389.09 433.00,390.14 C434.92,391.18 436.88,392.23 438.80,393.16 C440.72,394.08 442.58,394.84 444.50,395.70 C446.42,396.57 448.55,397.64 450.30,398.35 C452.05,399.07 453.37,399.38 455.00,399.99 C456.63,400.60 458.38,401.35 460.10,402.01 C461.82,402.66 463.58,403.28 465.30,403.92 C467.02,404.55 468.70,405.21 470.40,405.82 C472.10,406.44 473.78,407.08 475.50,407.63 C477.22,408.17 478.98,408.62 480.70,409.11 C482.42,409.60 484.10,410.13 485.80,410.59 C487.50,411.05 489.18,411.48 490.90,411.87 C492.62,412.25 494.38,412.61 496.10,412.93 C497.82,413.24 499.50,413.51 501.20,413.77 C502.90,414.04 503.97,414.22 506.30,414.52 C508.63,414.81 513.72,415.36 515.20,415.52" fill="none" stroke="#FF7F00" stroke-width="2.0" stroke-linejoin="round" stroke-linecap="butt"/>
<path d="M242.30,379.04 C243.15,378.79 245.73,378.06 247.40,377.57 C249.07,377.08 250.45,376.69 252.30,376.10 C254.15,375.51 256.43,374.79 258.50,374.04 C260.57,373.28 262.65,372.39 264.70,371.57 C266.75,370.74 268.75,369.99 270.80,369.10 C272.85,368.21 274.93,367.23 277.00,366.23 C279.07,365.23 281.15,364.20 283.20,363.10 C285.25,362.00 287.25,360.78 289.30,359.63 C291.35,358.47 293.65,357.26 295.50,356.16 C297.35,355.06 298.97,354.03 300.40,353.02 C301.83,352.02 302.65,351.25 304.10,350.16 C305.55,349.07 307.25,347.79 309.10,346.49 C310.95,345.19 313.53,343.52 315.20,342.35 C316.87,341.19 317.33,340.71 319.10,339.48 C320.87,338.26 323.70,336.47 325.80,335.02 C327.90,333.56 329.75,331.97 331.70,330.75 C333.65,329.52 335.55,328.48 337.50,327.68 C339.45,326.88 341.45,326.42 343.40,325.94 C345.35,325.47 347.43,325.07 349.20,324.81 C350.97,324.55 352.45,324.40 354.00,324.41 C355.55,324.42 357.17,324.63 358.50,324.88 C359.83,325.12 360.63,325.39 362.00,325.88 C363.37,326.37 365.37,327.23 366.70,327.81 C368.03,328.39 368.48,328.63 370.00,329.35 C371.52,330.06 374.12,331.20 375.80,332.08 C377.48,332.96 378.67,333.68 380.10,334.62 C381.53,335.55 382.97,336.45 384.40,337.68 C385.83,338.92 387.27,340.66 388.70,342.02 C390.13,343.38 391.32,344.46 393.00,345.82 C394.68,347.18 396.88,348.71 398.80,350.16 C400.72,351.60 402.58,352.92 404.50,354.49 C406.42,356.06 408.42,357.84 410.30,359.56 C412.18,361.28 413.93,363.15 415.80,364.83 C417.67,366.51 419.58,368.12 421.50,369.63 C423.42,371.14 425.38,372.51 427.30,373.90 C429.22,375.29 431.08,376.66 433.00,377.97 C434.92,379.28 436.88,380.61 438.80,381.77 C440.72,382.94 442.58,383.88 444.50,384.97 C446.42,386.06 448.55,387.41 450.30,388.31 C452.05,389.21 453.37,389.61 455.00,390.38 C456.63,391.14 458.38,392.09 460.10,392.91 C461.82,393.73 463.58,394.51 465.30,395.31 C467.02,396.11 468.70,396.94 470.40,397.71 C472.10,398.49 473.78,399.29 475.50,399.98 C477.22,400.67 478.98,401.23 480.70,401.85 C482.42,402.47 484.10,403.14 485.80,403.72 C487.50,404.29 489.18,404.83 490.90,405.32 C492.62,405.81 494.38,406.25 496.10,406.65 C497.82,407.05 499.50,407.39 501.20,407.72 C502.90,408.05 503.97,408.29 506.30,408.65 C508.63,409.02 513.72,409.71 515.20,409.92" fill="none" stroke="#9B00DB" stroke-width="2.0" stroke-linejoin="round" stroke-linecap="butt"/>
<path d="M242.30,369.18 C243.15,368.90 245.73,368.04 247.40,367.47 C249.07,366.90 250.45,366.44 252.30,365.75 C254.15,365.06 256.43,364.22 258.50,363.33 C260.57,362.45 262.65,361.41 264.70,360.45 C266.75,359.49 268.75,358.60 270.80,357.56 C272.85,356.52 274.93,355.38 277.00,354.21 C279.07,353.04 281.15,351.83 283.20,350.54 C285.25,349.25 287.25,347.84 289.30,346.49 C291.35,345.13 293.65,343.72 295.50,342.43 C297.35,341.14 298.97,339.93 300.40,338.76 C301.83,337.59 302.65,336.68 304.10,335.41 C305.55,334.14 307.25,332.64 309.10,331.12 C310.95,329.60 313.53,327.65 315.20,326.28 C316.87,324.92 317.33,324.36 319.10,322.93 C320.87,321.50 323.70,319.41 325.80,317.70 C327.90,316.00 329.75,314.14 331.70,312.71 C333.65,311.28 335.55,310.06 337.50,309.12 C339.45,308.19 341.45,307.66 343.40,307.10 C345.35,306.54 347.43,306.07 349.20,305.77 C350.97,305.47 352.45,305.29 354.00,305.30 C355.55,305.31 357.17,305.56 358.50,305.85 C359.83,306.13 360.63,306.45 362.00,307.02 C363.37,307.59 365.37,308.60 366.70,309.28 C368.03,309.96 368.48,310.24 370.00,311.07 C371.52,311.91 374.12,313.25 375.80,314.27 C377.48,315.30 378.67,316.14 380.10,317.24 C381.53,318.33 382.97,319.38 384.40,320.82 C385.83,322.27 387.27,324.31 388.70,325.89 C390.13,327.48 391.32,328.75 393.00,330.34 C394.68,331.93 396.88,333.72 398.80,335.41 C400.72,337.10 402.58,338.65 404.50,340.48 C406.42,342.31 408.42,344.39 410.30,346.41 C412.18,348.42 413.93,350.61 415.80,352.57 C417.67,354.53 419.58,356.42 421.50,358.19 C423.42,359.95 425.38,361.55 427.30,363.18 C429.22,364.80 431.08,366.40 433.00,367.94 C434.92,369.47 436.88,371.02 438.80,372.38 C440.72,373.75 442.58,374.85 444.50,376.13 C446.42,377.40 448.55,378.97 450.30,380.03 C452.05,381.08 453.37,381.55 455.00,382.44 C456.63,383.34 458.38,384.45 460.10,385.41 C461.82,386.37 463.58,387.28 465.30,388.22 C467.02,389.15 468.70,390.11 470.40,391.02 C472.10,391.93 473.78,392.87 475.50,393.68 C477.22,394.48 478.98,395.13 480.70,395.86 C482.42,396.59 484.10,397.37 485.80,398.04 C487.50,398.72 489.18,399.34 490.90,399.92 C492.62,400.49 494.38,401.01 496.10,401.48 C497.82,401.94 499.50,402.33 501.20,402.72 C502.90,403.11 503.97,403.39 506.30,403.82 C508.63,404.25 513.72,405.05 515.20,405.30" fill="none" stroke="#00BB00" stroke-width="2.0" stroke-linejoin="round" stroke-linecap="butt"/>
<path d="M242.30,361.68 C243.15,361.37 245.73,360.41 247.40,359.78 C249.07,359.14 250.45,358.64 252.30,357.87 C254.15,357.11 256.43,356.17 258.50,355.19 C260.57,354.21 262.65,353.05 264.70,351.99 C266.75,350.92 268.75,349.94 270.80,348.78 C272.85,347.63 274.93,346.36 277.00,345.06 C279.07,343.76 281.15,342.42 283.20,340.99 C285.25,339.56 287.25,337.99 289.30,336.48 C291.35,334.98 293.65,333.41 295.50,331.98 C297.35,330.55 298.97,329.21 300.40,327.91 C301.83,326.61 302.65,325.60 304.10,324.19 C305.55,322.77 307.25,321.11 309.10,319.42 C310.95,317.74 313.53,315.57 315.20,314.05 C316.87,312.54 317.33,311.92 319.10,310.33 C320.87,308.74 323.70,306.42 325.80,304.53 C327.90,302.64 329.75,300.57 331.70,298.99 C333.65,297.40 335.55,296.04 337.50,295.00 C339.45,293.96 341.45,293.37 343.40,292.75 C345.35,292.13 347.43,291.61 349.20,291.28 C350.97,290.95 352.45,290.74 354.00,290.76 C355.55,290.77 357.17,291.05 358.50,291.37 C359.83,291.68 360.63,292.03 362.00,292.66 C363.37,293.30 365.37,294.43 366.70,295.18 C368.03,295.93 368.48,296.24 370.00,297.17 C371.52,298.09 374.12,299.58 375.80,300.72 C377.48,301.86 378.67,302.80 380.10,304.01 C381.53,305.22 382.97,306.39 384.40,307.99 C385.83,309.59 387.27,311.86 388.70,313.62 C390.13,315.38 391.32,316.80 393.00,318.56 C394.68,320.32 396.88,322.31 398.80,324.19 C400.72,326.06 402.58,327.78 404.50,329.82 C406.42,331.85 408.42,334.16 410.30,336.40 C412.18,338.63 413.93,341.06 415.80,343.24 C417.67,345.42 419.58,347.51 421.50,349.47 C423.42,351.44 425.38,353.21 427.30,355.02 C429.22,356.82 431.08,358.60 433.00,360.30 C434.92,362.00 436.88,363.72 438.80,365.24 C440.72,366.75 442.58,367.98 444.50,369.39 C446.42,370.81 448.55,372.55 450.30,373.72 C452.05,374.89 453.37,375.41 455.00,376.41 C456.63,377.40 458.38,378.63 460.10,379.70 C461.82,380.77 463.58,381.78 465.30,382.82 C467.02,383.85 468.70,384.92 470.40,385.93 C472.10,386.94 473.78,387.98 475.50,388.88 C477.22,389.77 478.98,390.49 480.70,391.30 C482.42,392.11 484.10,392.98 485.80,393.73 C487.50,394.48 489.18,395.17 490.90,395.81 C492.62,396.44 494.38,397.02 496.10,397.54 C497.82,398.06 499.50,398.49 501.20,398.92 C502.90,399.36 503.97,399.66 506.30,400.14 C508.63,400.61 513.72,401.51 515.20,401.78" fill="none" stroke="#FF0000" stroke-width="2.0" stroke-linejoin="round" stroke-linecap="butt"/>
<path d="M242.30,350.00 C243.15,349.63 245.73,348.53 247.40,347.80 C249.07,347.07 250.45,346.48 252.30,345.60 C254.15,344.72 256.43,343.63 258.50,342.50 C260.57,341.37 262.65,340.03 264.70,338.80 C266.75,337.57 268.75,336.43 270.80,335.10 C272.85,333.77 274.93,332.30 277.00,330.80 C279.07,329.30 281.15,327.75 283.20,326.10 C285.25,324.45 287.25,322.63 289.30,320.90 C291.35,319.17 293.65,317.35 295.50,315.70 C297.35,314.05 298.97,312.50 300.40,311.00 C301.83,309.50 302.65,308.33 304.10,306.70 C305.55,305.07 307.25,303.15 309.10,301.20 C310.95,299.25 313.53,296.75 315.20,295.00 C316.87,293.25 317.33,292.53 319.10,290.70 C320.87,288.87 323.70,286.18 325.80,284.00 C327.90,281.82 329.75,279.43 331.70,277.60 C333.65,275.77 335.55,274.20 337.50,273.00 C339.45,271.80 341.45,271.12 343.40,270.40 C345.35,269.68 347.43,269.08 349.20,268.70 C350.97,268.32 352.45,268.08 354.00,268.10 C355.55,268.12 357.17,268.43 358.50,268.80 C359.83,269.17 360.63,269.57 362.00,270.30 C363.37,271.03 365.37,272.33 366.70,273.20 C368.03,274.07 368.48,274.43 370.00,275.50 C371.52,276.57 374.12,278.28 375.80,279.60 C377.48,280.92 378.67,282.00 380.10,283.40 C381.53,284.80 382.97,286.15 384.40,288.00 C385.83,289.85 387.27,292.47 388.70,294.50 C390.13,296.53 391.32,298.17 393.00,300.20 C394.68,302.23 396.88,304.53 398.80,306.70 C400.72,308.87 402.58,310.85 404.50,313.20 C406.42,315.55 408.42,318.22 410.30,320.80 C412.18,323.38 413.93,326.18 415.80,328.70 C417.67,331.22 419.58,333.63 421.50,335.90 C423.42,338.17 425.38,340.22 427.30,342.30 C429.22,344.38 431.08,346.43 433.00,348.40 C434.92,350.37 436.88,352.35 438.80,354.10 C440.72,355.85 442.58,357.27 444.50,358.90 C446.42,360.53 448.55,362.55 450.30,363.90 C452.05,365.25 453.37,365.85 455.00,367.00 C456.63,368.15 458.38,369.57 460.10,370.80 C461.82,372.03 463.58,373.20 465.30,374.40 C467.02,375.60 468.70,376.83 470.40,378.00 C472.10,379.17 473.78,380.37 475.50,381.40 C477.22,382.43 478.98,383.27 480.70,384.20 C482.42,385.13 484.10,386.13 485.80,387.00 C487.50,387.87 489.18,388.67 490.90,389.40 C492.62,390.13 494.38,390.80 496.10,391.40 C497.82,392.00 499.50,392.50 501.20,393.00 C502.90,393.50 503.97,393.85 506.30,394.40 C508.63,394.95 513.72,395.98 515.20,396.30" fill="none" stroke="#0000FF" stroke-width="2.0" stroke-linejoin="round" stroke-linecap="butt"/>
<text transform="translate(238.06,441.60) scale(0.1205,0.1211)" font-size="100" font-family="Liberation Sans" font-weight="bold" text-anchor="end" fill="#000" stroke="#000" stroke-width="2.5">0</text>
<path transform="translate(217.96,413.04) scale(0.1205,0.1211)" d="M29,0H43.6V-71.2H33.6C31.6,-65.2 27.2,-59.8 21.2,-55.4C16.2,-51.8 11.2,-49.4 6.4,-47.9V-35.2C15.4,-38.3 23.2,-42.8 29,-48.2Z" fill="#000" stroke="#000" stroke-width="2.5"/><text transform="translate(224.66,413.04) scale(0.1205,0.1211)" font-size="100" font-family="Liberation Sans" font-weight="bold" fill="#000" stroke="#000" stroke-width="2.5">50</text>
<text transform="translate(238.06,384.48) scale(0.1205,0.1211)" font-size="100" font-family="Liberation Sans" font-weight="bold" text-anchor="end" fill="#000" stroke="#000" stroke-width="2.5">300</text>
<text transform="translate(238.06,355.92) scale(0.1205,0.1211)" font-size="100" font-family="Liberation Sans" font-weight="bold" text-anchor="end" fill="#000" stroke="#000" stroke-width="2.5">450</text>
<text transform="translate(238.06,327.36) scale(0.1205,0.1211)" font-size="100" font-family="Liberation Sans" font-weight="bold" text-anchor="end" fill="#000" stroke="#000" stroke-width="2.5">600</text>
<text transform="translate(238.06,298.80) scale(0.1205,0.1211)" font-size="100" font-family="Liberation Sans" font-weight="bold" text-anchor="end" fill="#000" stroke="#000" stroke-width="2.5">750</text>
<text transform="translate(238.06,270.24) scale(0.1205,0.1211)" font-size="100" font-family="Liberation Sans" font-weight="bold" text-anchor="end" fill="#000" stroke="#000" stroke-width="2.5">900</text>
<text transform="translate(242.30,460.20) scale(0.1187,0.1211)" font-size="100" font-family="Liberation Sans" font-weight="bold" text-anchor="middle" fill="#000" stroke="#000" stroke-width="2.5">530</text>
<text transform="translate(287.78,460.20) scale(0.1187,0.1211)" font-size="100" font-family="Liberation Sans" font-weight="bold" text-anchor="middle" fill="#000" stroke="#000" stroke-width="2.5">540</text>
<text transform="translate(333.26,460.20) scale(0.1187,0.1211)" font-size="100" font-family="Liberation Sans" font-weight="bold" text-anchor="middle" fill="#000" stroke="#000" stroke-width="2.5">550</text>
<text transform="translate(378.74,460.20) scale(0.1187,0.1211)" font-size="100" font-family="Liberation Sans" font-weight="bold" text-anchor="middle" fill="#000" stroke="#000" stroke-width="2.5">560</text>
<text transform="translate(424.22,460.20) scale(0.1187,0.1211)" font-size="100" font-family="Liberation Sans" font-weight="bold" text-anchor="middle" fill="#000" stroke="#000" stroke-width="2.5">570</text>
<text transform="translate(469.70,460.20) scale(0.1187,0.1211)" font-size="100" font-family="Liberation Sans" font-weight="bold" text-anchor="middle" fill="#000" stroke="#000" stroke-width="2.5">580</text>
<text transform="translate(515.18,460.20) scale(0.1187,0.1211)" font-size="100" font-family="Liberation Sans" font-weight="bold" text-anchor="middle" fill="#000" stroke="#000" stroke-width="2.5">590</text>
<text transform="translate(186.03,274.37) scale(0.2169,0.2338)" font-size="100" font-family="Liberation Sans" font-weight="bold" fill="#000" stroke="#000" stroke-width="0">C</text>
<text transform="translate(330.42,482.80) scale(0.1214,0.1135)" font-size="100" font-family="Liberation Sans" font-weight="bold" fill="#000" stroke="#000" stroke-width="2.5">Wavelength (nm)</text>
<text transform="translate(211.48,413.42) rotate(-90) scale(0.1205,0.1146)" font-size="100" font-family="Liberation Sans" font-weight="bold" fill="#000" stroke="#000" stroke-width="2.5">Fluorescence Intensity</text>
<text transform="translate(483.93,300.26) scale(0.1228,0.1156)" font-size="100" font-family="Liberation Sans" font-weight="bold" fill="#000" stroke="#000" stroke-width="2.5">0 μg/mL</text>
<text transform="translate(484.78,363.27) scale(0.1226,0.1104)" font-size="100" font-family="Liberation Sans" font-weight="bold" fill="#000" stroke="#000" stroke-width="2.5">3 μg/mL</text>
<path d="M500.5,309.1V342" stroke="#000" stroke-width="2.8"/>
<path d="M497.1,340.6H503.5L500.3,348.9Z" fill="#000"/>
</svg>
</body></html>
